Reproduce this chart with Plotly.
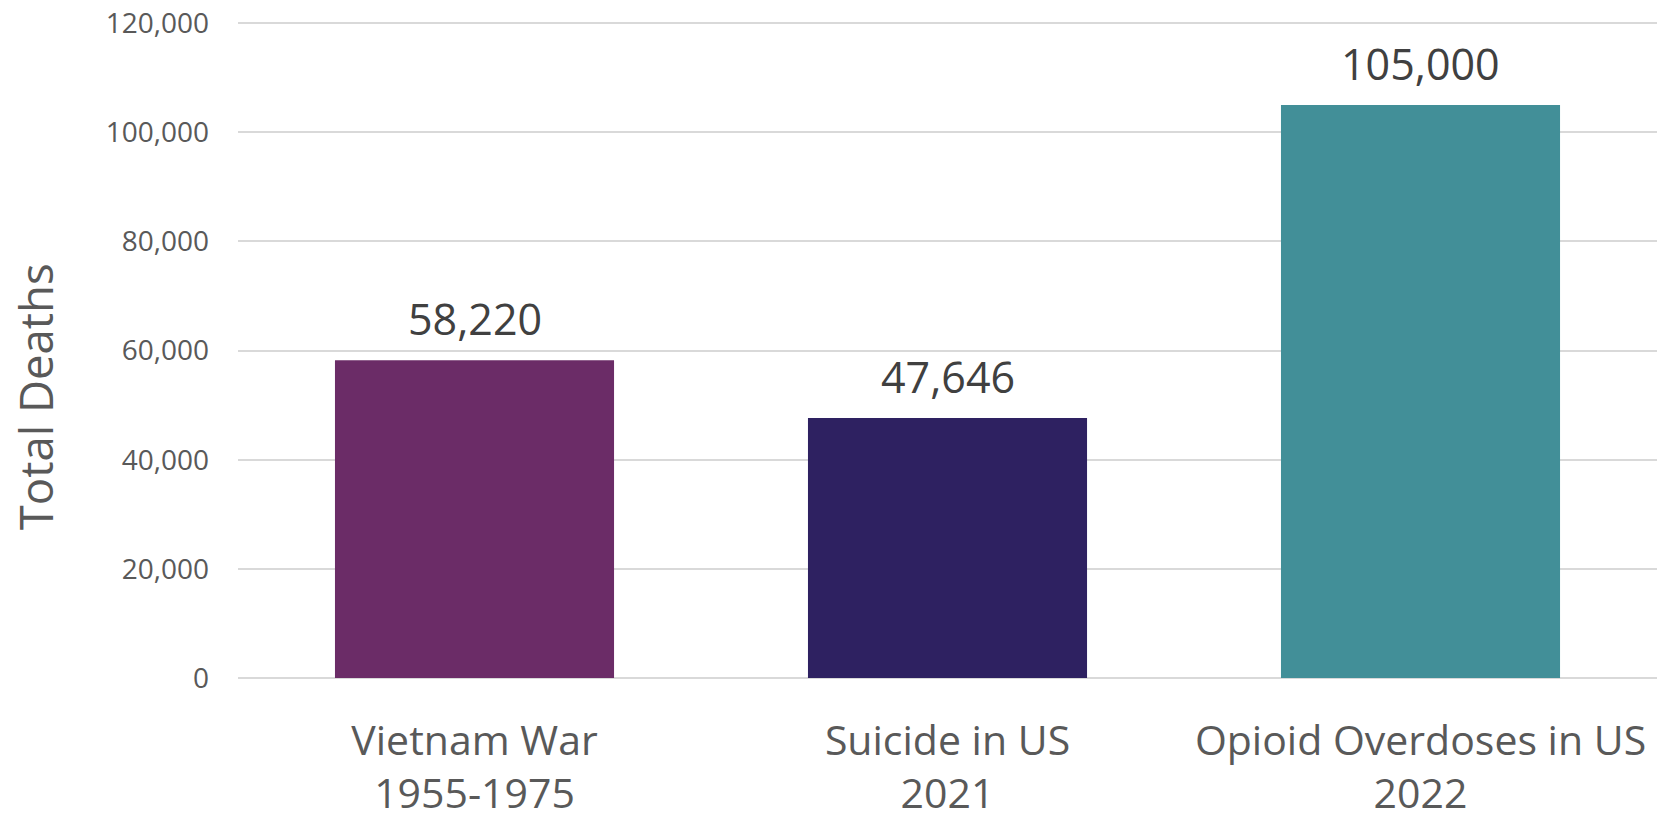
import plotly.graph_objects as go

categories = ["Vietnam War<br>1955-1975", "Suicide in US<br>2021", "Opioid Overdoses in US<br>2022"]
deaths = [58220, 47646, 105000]
value_labels = ["58,220", "47,646", "105,000"]
bar_colors = ["#6B2C67", "#2E2161", "#428F98"]
y_ticks = [0, 20000, 40000, 60000, 80000, 100000, 120000]
y_tick_labels = ["0", "20,000", "40,000", "60,000", "80,000", "100,000", "120,000"]

FONT = "Open Sans"

fig = go.Figure()
fig.add_trace(go.Bar(
    x=categories, y=deaths, marker=dict(color=bar_colors, line=dict(width=0)),
    width=0.59, hoverinfo="skip",
))

for c, v, t in zip(categories, deaths, value_labels):
    fig.add_annotation(x=c, y=v, text=t, showarrow=False, yanchor="bottom",
                       yshift=10, font=dict(family=FONT, size=43, color="#404040"))

fig.add_annotation(xref="paper", yref="paper", x=-0.143, y=0.4275, text="Total Deaths",
                   textangle=-90, showarrow=False, xanchor="center", yanchor="middle",
                   font=dict(family=FONT, size=45.5, color="#595959"))

fig.update_layout(
    width=1657, height=819,
    margin=dict(l=238, r=0, t=21, b=141, autoexpand=False),
    plot_bgcolor="white", paper_bgcolor="white",
    showlegend=False,
    bargap=0.41,
    xaxis=dict(showgrid=False, showline=False, ticks="", zeroline=False,
               automargin=False,
               tickfont=dict(family=FONT, size=41, color="#595959"),
               ticklabelstandoff=35),
    yaxis=dict(range=[0, 120400], tickvals=y_ticks, ticktext=y_tick_labels,
               automargin=False,
               showgrid=True, gridcolor="#D9D9D9", gridwidth=1.5,
               zeroline=True, zerolinecolor="#D9D9D9", zerolinewidth=1.5,
               showline=False, ticks="",
               tickfont=dict(family=FONT, size=28, color="#595959"),
               ticklabelstandoff=28),
)

fig.write_html("out.html", config={"displayModeBar": False},
               post_script="document.body.style.margin='0px';document.body.style.overflow='hidden';")
